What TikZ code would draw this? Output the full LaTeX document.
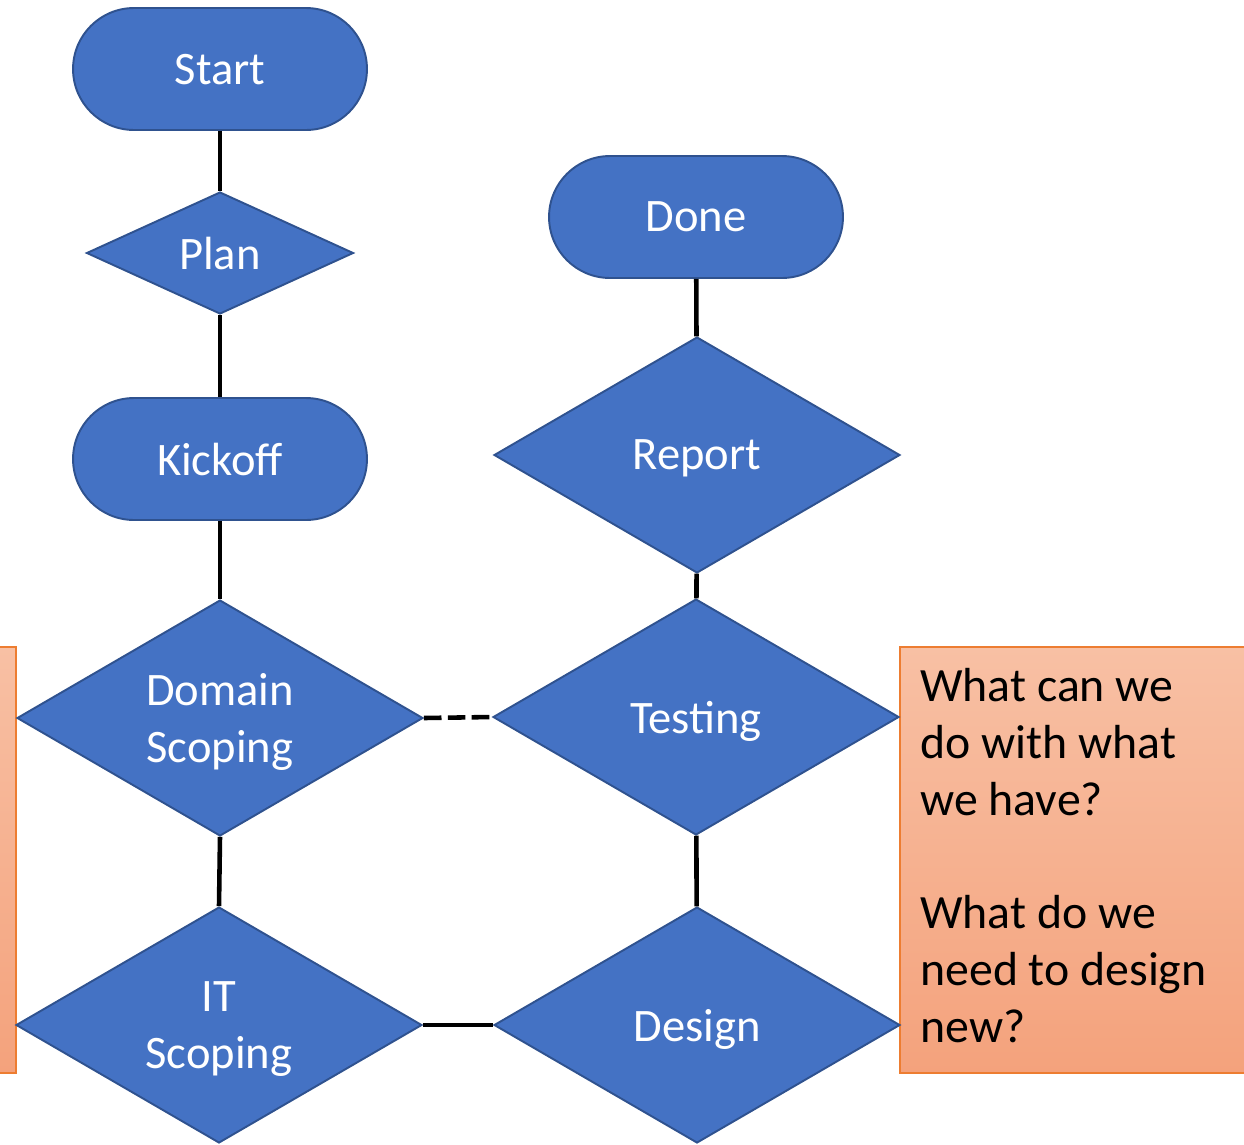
\documentclass[tikz,border=0pt]{standalone}
\usepackage{fontspec}
\setmainfont{Carlito}
\usetikzlibrary{shapes.geometric}
\definecolor{flowblue}{RGB}{68,114,196}
\definecolor{flowedge}{RGB}{47,82,143}
\definecolor{notetop}{RGB}{248,192,164}
\definecolor{notebottom}{RGB}{244,162,124}
\definecolor{noteedge}{RGB}{237,125,49}
\tikzset{
	terminal/.style={draw=flowedge, fill=flowblue, line width=1.1pt, rounded corners=1.22cm, minimum width=5.88cm, minimum height=2.44cm, text=white, font=\fontsize{26.5}{32.3}\selectfont, align=center, text depth=0pt},
	decision/.style={diamond, draw=flowedge, fill=flowblue, line width=1.1pt, inner sep=0pt, aspect=1.72, minimum width=8.12cm, minimum height=4.72cm, text=white, font=\fontsize{26.5}{32.3}\selectfont, align=center, text depth=0pt},
	link/.style={line width=2.6pt, black},
}

\begin{document}
\begin{tikzpicture}[x=0.02cm, y=-0.02cm]
		%%%%% START %%%%%
		\useasboundingbox (0, 0) rectangle (1244, 1144);
		
		% note boxes, cut at the page edges
		\begin{scope}
			\clip (0, 0) rectangle (1244, 1144);
			\shadedraw[top color=notetop, bottom color=notebottom, draw=noteedge, line width=1pt] (-30, 647) rectangle (16, 1073);
			\shadedraw[top color=notetop, bottom color=notebottom, draw=noteedge, line width=1pt] (900, 647) rectangle (1270, 1073);
		\end{scope}
		\node[anchor=north west, inner sep=0pt, align=left, font=\fontsize{27.2}{32.3}\selectfont] (note) at (920, 668) {What can we\\do with what\\we have?\\[32.3pt]What do we\\need to design\\new?};
		
		% left column
		\node[terminal] (start) at (220, 69) {Start};
		\node[decision, minimum width=5.34cm, minimum height=2.44cm, aspect=2.19] (plan) at (220, 253) {Plan};
		\node[terminal] (kickoff) at (220, 459) {Kickoff};
		\node[decision] (domain) at (220, 718) {Domain\\Scoping};
		\node[decision] (it) at (219, 1025) {IT\\Scoping};
		
		% right column
		\node[terminal] (done) at (696, 217) {Done};
		\node[decision] (report) at (697, 455) {Report};
		\node[decision] (testing) at (696, 717) {Testing};
		\node[decision] (design) at (697, 1025) {Design};
		
		\draw[link] (start) -- (plan);
		\draw[link] (plan) -- (kickoff);
		\draw[link] (kickoff) -- (domain);
		\draw[link] (domain.south) -- (it.north);
		
		\draw[link] (done) -- (report);
		\draw[link] (report) -- (testing);
		\draw[link] (testing) -- (design);
		
		\draw[link, dash pattern=on 10pt off 3.6pt] (domain.east) -- (testing.west);
		\draw[link] (it.east) -- (design.west);
		%%%%% END %%%%%
\end{tikzpicture}
\end{document}
